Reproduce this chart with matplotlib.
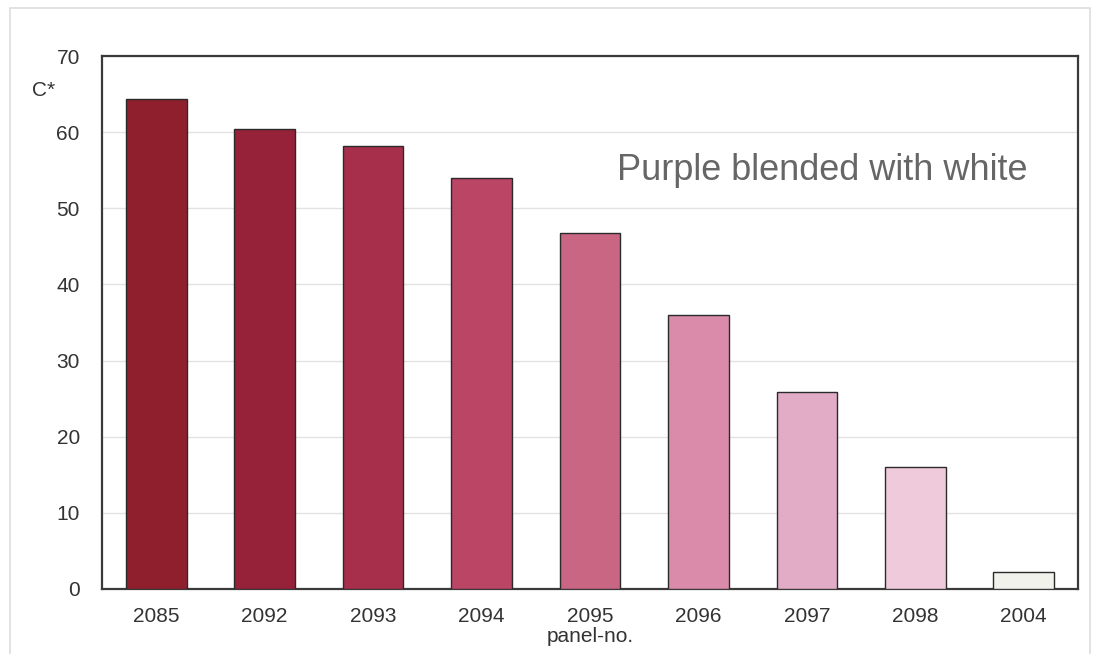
import matplotlib
matplotlib.use('Agg')
import matplotlib.pyplot as plt
from matplotlib.patches import Rectangle

panels = ['2085', '2092', '2093', '2094', '2095', '2096', '2097', '2098', '2004']
chroma = [64.4, 60.4, 58.2, 54.0, 46.8, 36.0, 25.9, 16.0, 2.2]
colors = ['#8f1f2c', '#962239', '#a72f4b', '#ba4565', '#c96683', '#d98ba9',
          '#e3acc6', '#efcadb', '#f1f2ec']

plt.rcParams['font.family'] = ['Liberation Sans', 'DejaVu Sans']

fig = plt.figure(figsize=(10.97, 6.54), dpi=100)
ax = fig.add_axes([102 / 1097, 1 - 589 / 654, 976 / 1097, 533 / 654])

# rahmen um die ganze grafik
fig.patches.append(Rectangle((10 / 1097, -0.1), 1080 / 1097, 1.1 - 8 / 654,
                             transform=fig.transFigure, fill=False,
                             edgecolor='#dddddd', linewidth=1.2))

x = range(len(panels))
ax.bar(x, chroma, width=0.56, color=colors, edgecolor='#2a2a2a', linewidth=1.0, zorder=3)

ax.set_xlim(-0.5, len(panels) - 0.5)
ax.set_ylim(0, 70)
ax.set_yticks(range(0, 71, 10))
ax.set_xticks(list(x))
ax.set_xticklabels(panels)
ax.tick_params(length=0, labelsize=15, labelcolor='#333333')
ax.tick_params(axis='x', pad=13)
ax.tick_params(axis='y', pad=16)
ax.grid(axis='y', color='#e2e2e2', linewidth=1.0, zorder=0)
for s in ax.spines.values():
    s.set_color('#3a3a3a')
    s.set_linewidth(1.6)

ax.set_xlabel('panel-no.', fontsize=15, color='#333333', labelpad=1)
fig.text(44 / 1097, 1 - 91 / 654, 'C*', fontsize=15, color='#333333', ha='center', va='center')
ax.text(0.738, 0.786, 'Purple blended with white', transform=ax.transAxes,
        fontsize=26, color='#666666', ha='center', va='center')

fig.savefig('out.png', dpi=100)
